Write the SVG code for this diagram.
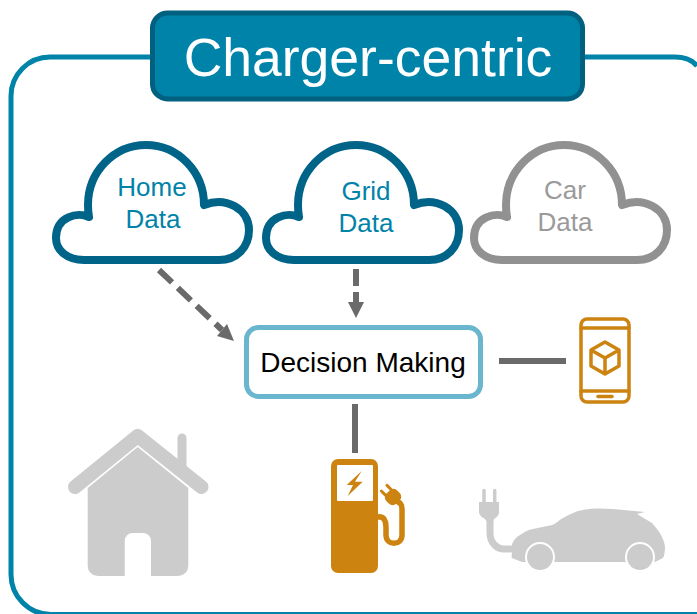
<svg xmlns="http://www.w3.org/2000/svg" width="697" height="614" viewBox="0 0 697 614">
<style>
.lbl{font-family:"Liberation Sans",Arial,sans-serif;text-anchor:middle}
.cl{font-size:26px;fill:#0083A9}
.cg{font-size:26px;fill:#9A9A9A}
.cloud{fill:#fff;stroke-width:8;stroke-linejoin:round}
.conn{fill:none;stroke:#6A6A6A;stroke-width:6}
.head{fill:#6A6A6A}
.grey{fill:#CCCCCC}
.gline{fill:none;stroke:#CCCCCC;stroke-linecap:round;stroke-linejoin:round}
.org{fill:#CC8310}
.oline{fill:none;stroke:#CC8310;stroke-linecap:round;stroke-linejoin:round}
</style>
<defs>
<path id="cloudShape" d="M89 217C78 212 56 216 56 238C56 251 68 260 84 260H219C237 260 249 247 249 230C249 209 226 196 204 205A58 60 0 0 0 88 205Q88 211 89 217Z"/>
</defs>
<g id="frame">
<path d="M697 66Q690 57 675 57H50A39 39 0 0 0 11 96V574A40 40 0 0 0 51 614.500H697" fill="none" stroke="#0083A9" stroke-width="5"/>
</g>
<g id="title">
<rect x="152.500" y="13" width="430" height="86" rx="15" fill="#0083A9" stroke="#00607F" stroke-width="5"/>
<text class="lbl" x="368" y="76" font-size="53.500" fill="#fff">Charger-centric</text>
</g>
<g id="home-data">
<use href="#cloudShape" class="cloud" stroke="#006388"/>
<text class="lbl cl" x="152" y="196">Home</text>
<text class="lbl cl" x="153" y="228">Data</text>
</g>
<g id="grid-data">
<use href="#cloudShape" x="210" class="cloud" stroke="#006388"/>
<text class="lbl cl" x="366" y="200">Grid</text>
<text class="lbl cl" x="366" y="232">Data</text>
</g>
<g id="car-data">
<use href="#cloudShape" x="418" class="cloud" stroke="#919191"/>
<text class="lbl cg" x="565" y="199">Car</text>
<text class="lbl cg" x="565" y="231">Data</text>
</g>
<g id="connectors">
<path class="conn" d="M159 270L222 330" stroke-dasharray="18 8"/>
<polygon class="head" points="227,324 234,341 217,336"/>
<path class="conn" d="M356 269V304" stroke-dasharray="17 6"/>
<polygon class="head" points="348,302 364,302 356,318"/>
<path class="conn" d="M499 361H566"/>
<path class="conn" d="M355 404V453"/>
</g>
<g id="decision-making">
<rect x="246.500" y="327.500" width="234" height="69" rx="12" fill="#fff" stroke="#6AB6CE" stroke-width="5"/>
<text class="lbl" x="363" y="372" font-size="28" fill="#000">Decision Making</text>
</g>
<g id="phone">
<rect x="581" y="319" width="48" height="83" rx="6" class="oline" stroke-width="3.500"/>
<path class="oline" stroke-width="3.500" d="M581 328H629M581 391H629"/>
<path class="oline" stroke-width="3.500" d="M598 396.500H612"/>
<path class="oline" stroke-width="3.500" d="M605 342L619 350V366L605 374L591 366V350ZM591 350L605 358L619 350M605 358V374"/>
</g>
<g id="house">
<path class="grey" d="M87.700 488L137.700 447L188.300 488V566A10 10 0 0 1 178.300 576H151V541A8 8 0 0 0 143 533H132.700A8 8 0 0 0 124.700 541V576H97.700A10 10 0 0 1 87.700 566Z"/>
<path class="gline" stroke-width="14" d="M75 487L137.700 436L201.500 487"/>
<path class="gline" stroke-width="9" d="M182 438V465"/>
</g>
<g id="charger">
<rect x="331" y="459" width="47" height="114" rx="7" class="org"/>
<rect x="337" y="465" width="36" height="36" rx="1" fill="#fff"/>
<polygon class="org" points="361.700,471 346.700,485 353,485 347.700,496 362.700,481.700 355,481.700"/>
<path class="oline" stroke-width="5.500" d="M378 517C384 516 386 521 386 527V535C386 546 402 546 402 535V509C402 504 400 503 397 501"/>
<g transform="rotate(-45 393 497)">
<rect x="385.500" y="490" width="15" height="14" rx="5" class="org"/>
<path class="oline" stroke-width="3" d="M389 490V484.500M397 490V484.500"/>
</g>
</g>
<g id="ev-car">
<path class="gline" stroke-width="3.500" stroke-linecap="butt" d="M484 490.500V503M494.700 490.500V503"/>
<path class="grey" d="M479 502H499V512Q499 516 494 519L493 522H487L485 519Q479 516 479 512Z"/>
<path class="gline" stroke-width="7" stroke-linecap="butt" d="M490 520V533C490 543 497 549 504 549H510"/>
<path class="grey" d="M511.700 558V545C513 541 516 537 520 535C526 531 528 530 533 529L552 525C556 524 559 520 563 518C570 514 576 511 583 510C593 508 603 508.500 613 509L645 512L637 514L652 523C656 528 660 532 662 537C664 541 665 545 665 548C665 552 664 556 663 558L655 562H522L511.700 558Z"/>
<circle cx="540" cy="557" r="15" fill="#fff"/>
<circle cx="640" cy="557" r="15" fill="#fff"/>
<circle cx="540" cy="557" r="13" class="grey"/>
<circle cx="640" cy="557" r="13" class="grey"/>
</g>
</svg>
